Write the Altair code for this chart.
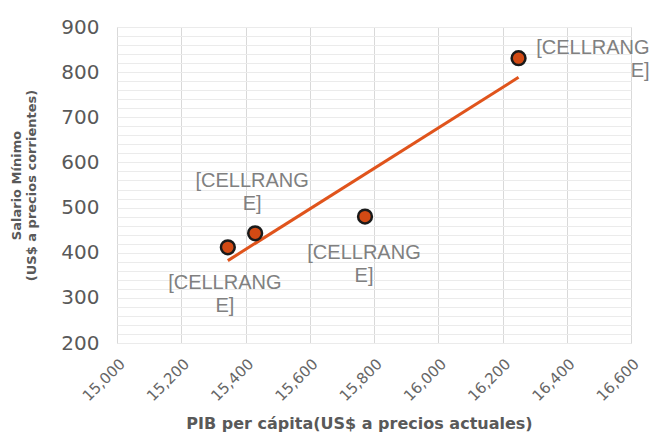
import altair as alt
import pandas as pd

# Data
gdp = [15345, 15430, 15772, 16250]
wage = [412, 443, 480, 831]
labels = ["[CELLRANGE]", "[CELLRANGE]", "[CELLRANGE]", "[CELLRANGE]"]

x_ticks = [15000, 15200, 15400, 15600, 15800, 16000, 16200, 16400, 16600]
y_ticks = list(range(200, 901, 20))

df = pd.DataFrame({"idx": list(range(len(gdp))), "gdp": gdp, "wage": wage, "label": labels})

FONT = "Liberation Sans"
WIDE = "DejaVu Sans"
x_enc = alt.X(
    "gdp:Q",
    scale=alt.Scale(domain=[15000, 16600], nice=False, zero=False),
    axis=alt.Axis(
        values=x_ticks, format=",.0f", labelAngle=-45, labelAlign="right", labelBaseline="top",
        labelFontSize=15, labelColor="#666666", labelFont=WIDE, labelPadding=13,
        labelOverlap=False, labelBound=False,
        grid=True, gridColor="#d9d9d9", domain=False, ticks=False,
        title="PIB per cápita(US$ a precios actuales)", titleFont=WIDE, titleFontSize=16,
        titleFontWeight="bold", titleColor="#595959", titleX=242, titleY=72,
    ),
)
y_enc = alt.Y(
    "wage:Q",
    scale=alt.Scale(domain=[200, 900], nice=False, zero=False),
    axis=alt.Axis(
        values=y_ticks, labelExpr="datum.value % 100 == 0 ? datum.label : ''",
        labelOverlap=False, labelBound=False,
        labelFontSize=20, labelColor="#595959", labelFont=WIDE, labelPadding=18,
        grid=True, gridColor="#ebebeb", domain=False, ticks=False,
        title=["Salario Mínimo", "(US$  a precios corrientes)"], titleFont=WIDE,
        titleFontSize=13, titleFontWeight="bold", titleColor="#595959", titlePadding=22,
        titleLineHeight=15,
    ),
)

base = alt.Chart(df).encode(x=x_enc, y=y_enc)

trend = base.transform_regression("gdp", "wage").mark_line(
    color="#E0541C", strokeWidth=3
)

points = base.mark_circle(
    size=190, color="#D24A14", opacity=1, stroke="#1a1a1a", strokeWidth=2.5
)

placements = [
    {"dx": -3, "dy": 36, "align": "center"},
    {"dx": -3, "dy": -52, "align": "center"},
    {"dx": -1, "dy": 36, "align": "center"},
    {"dx": 131, "dy": -10, "align": "right"},
]

text_layers = []
for i, p in enumerate(placements):
    text_layers.append(
        base.transform_filter(alt.datum.idx == i)
        .transform_calculate(lbl="slice(datum.label, 0, 9) + '\\n' + slice(datum.label, 9)")
        .mark_text(
            font=FONT, fontSize=20, color="#808080", lineBreak="\n", lineHeight=23,
            baseline="middle", align=p["align"], dx=p["dx"], dy=p["dy"],
        )
        .encode(text="lbl:N")
    )

chart = alt.layer(trend, points, *text_layers).properties(
    width=514, height=316,
    autosize=alt.AutoSizeParams(type="none"),
    padding={"left": 109, "top": 19, "right": 20, "bottom": 90},
).configure_view(stroke=None).configure(background="white")

chart.save("out.html", embed_options={"renderer": "svg", "actions": False})
